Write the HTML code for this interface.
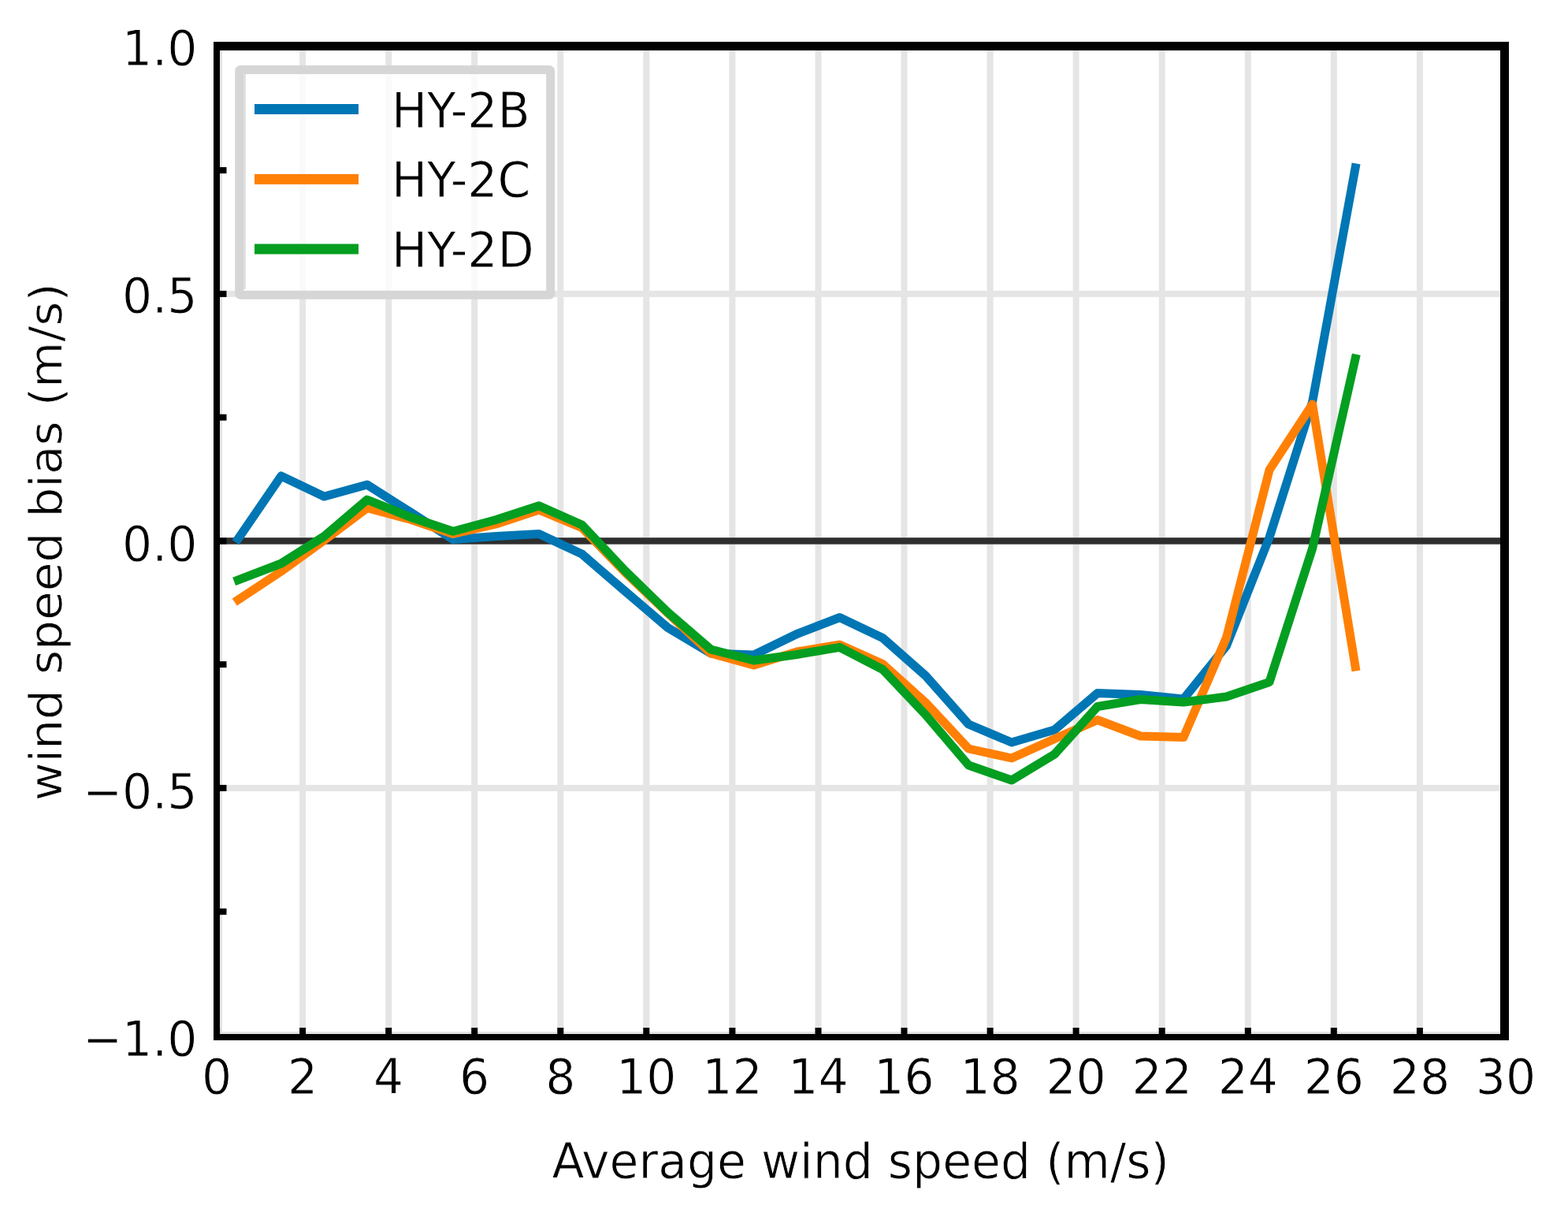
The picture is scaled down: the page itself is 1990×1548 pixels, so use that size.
<!DOCTYPE html>
<html><head><meta charset="utf-8"><title>Wind speed bias</title>
<style>html,body{margin:0;padding:0;background:#fff;}svg{display:block;}</style>
</head><body>
<svg width="1990" height="1548" viewBox="0 0 1990 1548">
<rect x="0" y="0" width="1990" height="1548" fill="#ffffff"/>
<rect x="271.1" y="64" width="8" height="1248" fill="#e5e5e5"/>
<rect x="380.1" y="64" width="8" height="1248" fill="#e5e5e5"/>
<rect x="489.2" y="64" width="8" height="1248" fill="#e5e5e5"/>
<rect x="598.2" y="64" width="8" height="1248" fill="#e5e5e5"/>
<rect x="707.3" y="64" width="8" height="1248" fill="#e5e5e5"/>
<rect x="816.3" y="64" width="8" height="1248" fill="#e5e5e5"/>
<rect x="925.4" y="64" width="8" height="1248" fill="#e5e5e5"/>
<rect x="1034.5" y="64" width="8" height="1248" fill="#e5e5e5"/>
<rect x="1143.5" y="64" width="8" height="1248" fill="#e5e5e5"/>
<rect x="1252.6" y="64" width="8" height="1248" fill="#e5e5e5"/>
<rect x="1361.6" y="64" width="8" height="1248" fill="#e5e5e5"/>
<rect x="1470.7" y="64" width="8" height="1248" fill="#e5e5e5"/>
<rect x="1579.8" y="64" width="8" height="1248" fill="#e5e5e5"/>
<rect x="1688.8" y="64" width="8" height="1248" fill="#e5e5e5"/>
<rect x="1797.9" y="64" width="8" height="1248" fill="#e5e5e5"/>
<rect x="1907.0" y="64" width="8" height="1248" fill="#e5e5e5"/>
<rect x="279" y="1309.4" width="1625" height="8" fill="#e5e5e5"/>
<rect x="279" y="995.9" width="1625" height="8" fill="#e5e5e5"/>
<rect x="279" y="682.4" width="1625" height="8" fill="#e5e5e5"/>
<rect x="279" y="368.9" width="1625" height="8" fill="#e5e5e5"/>
<rect x="279" y="55.4" width="1625" height="8" fill="#e5e5e5"/>
<rect x="279" y="64" width="3" height="1248" fill="#e3e3e3"/>
<rect x="279" y="1309" width="1625" height="3" fill="#e3e3e3"/>
<rect x="279" y="682.2" width="1625" height="8.4" fill="#2e2e2e"/>
<polyline points="302.3,683.5 356.8,604.0 411.4,630.0 465.9,615.0 520.4,649.5 575.0,684.6 629.5,680.6 684.0,677.5 738.6,703.0 793.1,750.0 847.6,796.5 902.1,829.0 956.7,831.0 1011.2,804.5 1065.7,783.5 1120.3,809.5 1174.8,857.5 1229.3,919.0 1283.9,942.0 1338.4,926.0 1392.9,879.5 1447.4,881.5 1502.0,887.0 1556.5,819.5 1611.0,682.0 1665.6,510.0 1720.1,213.0" fill="none" stroke="#0076b4" stroke-width="11" stroke-linejoin="round" stroke-linecap="square"/>
<polyline points="302.3,761.0 356.8,725.0 411.4,685.5 465.9,644.5 520.4,659.0 575.0,677.5 629.5,665.0 684.0,647.0 738.6,669.6 793.1,726.0 847.6,778.0 902.1,829.0 956.7,844.0 1011.2,827.0 1065.7,818.0 1120.3,842.5 1174.8,891.5 1229.3,950.0 1283.9,962.0 1338.4,937.5 1392.9,913.5 1447.4,934.0 1502.0,935.6 1556.5,809.0 1611.0,596.3 1665.6,513.0 1720.1,846.0" fill="none" stroke="#ff8005" stroke-width="11" stroke-linejoin="round" stroke-linecap="square"/>
<polyline points="302.3,736.0 356.8,715.0 411.4,680.5 465.9,634.0 520.4,656.0 575.0,674.2 629.5,659.5 684.0,641.7 738.6,666.0 793.1,724.0 847.6,777.0 902.1,824.0 956.7,838.0 1011.2,830.5 1065.7,821.3 1120.3,849.5 1174.8,907.0 1229.3,971.0 1283.9,990.0 1338.4,957.0 1392.9,896.5 1447.4,887.5 1502.0,891.0 1556.5,884.0 1611.0,865.5 1665.6,696.0 1720.1,455.0" fill="none" stroke="#049e20" stroke-width="11" stroke-linejoin="round" stroke-linecap="square"/>
<rect x="279" y="1152.7" width="8.5" height="8" fill="#000"/>
<rect x="279" y="995.9" width="8.5" height="8" fill="#000"/>
<rect x="279" y="839.1" width="8.5" height="8" fill="#000"/>
<rect x="279" y="682.4" width="8.5" height="8" fill="#000"/>
<rect x="279" y="525.6" width="8.5" height="8" fill="#000"/>
<rect x="279" y="368.9" width="8.5" height="8" fill="#000"/>
<rect x="279" y="212.1" width="8.5" height="8" fill="#000"/>
<rect x="271.1" y="1304" width="8" height="8" fill="#000"/>
<rect x="380.1" y="1304" width="8" height="8" fill="#000"/>
<rect x="489.2" y="1304" width="8" height="8" fill="#000"/>
<rect x="598.2" y="1304" width="8" height="8" fill="#000"/>
<rect x="707.3" y="1304" width="8" height="8" fill="#000"/>
<rect x="816.3" y="1304" width="8" height="8" fill="#000"/>
<rect x="925.4" y="1304" width="8" height="8" fill="#000"/>
<rect x="1034.5" y="1304" width="8" height="8" fill="#000"/>
<rect x="1143.5" y="1304" width="8" height="8" fill="#000"/>
<rect x="1252.6" y="1304" width="8" height="8" fill="#000"/>
<rect x="1361.6" y="1304" width="8" height="8" fill="#000"/>
<rect x="1470.7" y="1304" width="8" height="8" fill="#000"/>
<rect x="1579.8" y="1304" width="8" height="8" fill="#000"/>
<rect x="1688.8" y="1304" width="8" height="8" fill="#000"/>
<rect x="1797.9" y="1304" width="8" height="8" fill="#000"/>
<rect x="1907.0" y="1304" width="8" height="8" fill="#000"/>
<rect x="303.7" y="88.4" width="395" height="285.8" rx="1.5" ry="1.5" fill="#ffffff" fill-opacity="0.8" stroke="#d6d6d6" stroke-width="11"/>
<rect x="309" y="94" width="2.8" height="273" fill="#dedede"/>
<rect x="323" y="132.0" width="132" height="13" fill="#0076b4"/>
<rect x="323" y="220.9" width="132" height="13" fill="#ff8005"/>
<rect x="323" y="309.5" width="132" height="13" fill="#049e20"/>
<g font-family="DejaVu Sans, sans-serif" font-size="60" fill="#000" stroke="#fff" stroke-width="0.8">
<text transform="translate(497,161.8) scale(1,1.035)">HY-2B</text>
<text transform="translate(497,250.3) scale(1,1.035)">HY-2C</text>
<text transform="translate(497,338.8) scale(1,1.035)">HY-2D</text>
</g>
<rect x="271" y="53" width="1644" height="11" fill="#000"/>
<rect x="271" y="1312" width="1644" height="8" fill="#000"/>
<rect x="271" y="53" width="8" height="1267" fill="#000"/>
<rect x="1904" y="53" width="11" height="1267" fill="#000"/>
<g font-family="DejaVu Sans, sans-serif" font-size="60" fill="#000" stroke="#fff" stroke-width="0.8">
<text text-anchor="end" transform="translate(250.5,82.7) scale(1,1.035)">1.0</text>
<text text-anchor="end" transform="translate(250.5,397.1) scale(1,1.035)">0.5</text>
<text text-anchor="end" transform="translate(250.5,711.5) scale(1,1.035)">0.0</text>
<text text-anchor="end" transform="translate(250.5,1025.8) scale(1,1.035)">−0.5</text>
<text text-anchor="end" transform="translate(250.5,1340.2) scale(1,1.035)">−1.0</text>
<text text-anchor="middle" transform="translate(275.1,1387.5) scale(1,1.035)">0</text>
<text text-anchor="middle" transform="translate(384.1,1387.5) scale(1,1.035)">2</text>
<text text-anchor="middle" transform="translate(493.2,1387.5) scale(1,1.035)">4</text>
<text text-anchor="middle" transform="translate(602.2,1387.5) scale(1,1.035)">6</text>
<text text-anchor="middle" transform="translate(711.3,1387.5) scale(1,1.035)">8</text>
<text text-anchor="middle" transform="translate(820.3,1387.5) scale(1,1.035)">10</text>
<text text-anchor="middle" transform="translate(929.4,1387.5) scale(1,1.035)">12</text>
<text text-anchor="middle" transform="translate(1038.5,1387.5) scale(1,1.035)">14</text>
<text text-anchor="middle" transform="translate(1147.5,1387.5) scale(1,1.035)">16</text>
<text text-anchor="middle" transform="translate(1256.6,1387.5) scale(1,1.035)">18</text>
<text text-anchor="middle" transform="translate(1365.6,1387.5) scale(1,1.035)">20</text>
<text text-anchor="middle" transform="translate(1474.7,1387.5) scale(1,1.035)">22</text>
<text text-anchor="middle" transform="translate(1583.8,1387.5) scale(1,1.035)">24</text>
<text text-anchor="middle" transform="translate(1692.8,1387.5) scale(1,1.035)">26</text>
<text text-anchor="middle" transform="translate(1801.9,1387.5) scale(1,1.035)">28</text>
<text text-anchor="middle" transform="translate(1911.0,1387.5) scale(1,1.035)">30</text>
<text text-anchor="middle" transform="translate(1092.2,1494.7) scale(1,1.035)">Average wind speed (m/s)</text>
<text text-anchor="middle" transform="translate(78.2,687.8) rotate(-90) scale(0.996,0.962)">wind speed bias (m/s)</text>
</g>
</svg>
</body></html>
